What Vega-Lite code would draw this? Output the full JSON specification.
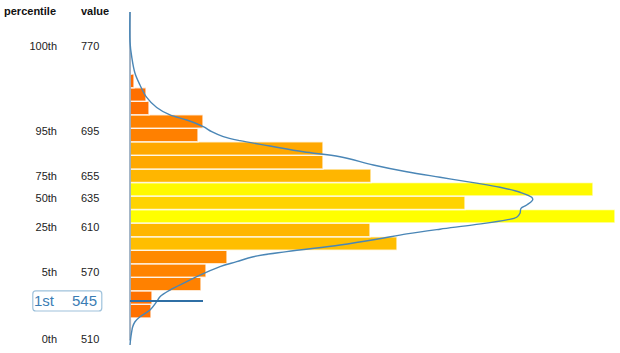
{
  "$schema": "https://vega.github.io/schema/vega-lite/v6.json",
  "width": 620,
  "height": 353,
  "autosize": "none",
  "padding": 0,
  "config": {"view": {"stroke": null}, "font": "Liberation Sans"},
  "datasets": {
    "bins": [
      {"start": 506, "end": 518, "count": 1},
      {"start": 518, "end": 530, "count": 1.3},
      {"start": 530, "end": 542, "count": 21},
      {"start": 542, "end": 554, "count": 22},
      {"start": 554, "end": 566, "count": 71},
      {"start": 566, "end": 578, "count": 76},
      {"start": 578, "end": 590, "count": 97},
      {"start": 590, "end": 602, "count": 267},
      {"start": 602, "end": 614, "count": 240},
      {"start": 614, "end": 626, "count": 485},
      {"start": 626, "end": 638, "count": 335},
      {"start": 638, "end": 650, "count": 463},
      {"start": 650, "end": 662, "count": 241},
      {"start": 662, "end": 674, "count": 193},
      {"start": 674, "end": 686, "count": 193},
      {"start": 686, "end": 698, "count": 68},
      {"start": 698, "end": 710, "count": 73},
      {"start": 710, "end": 722, "count": 19},
      {"start": 722, "end": 734, "count": 16},
      {"start": 734, "end": 746, "count": 4},
      {"start": 746, "end": 758, "count": 1},
      {"start": 758, "end": 770, "count": 1}
    ],
    "density": [
      {"v": 801, "d": 0}, {"v": 774.7, "d": 0}, {"v": 761.4, "d": 1.7}, {"v": 746.7, "d": 5},
      {"v": 736.3, "d": 10}, {"v": 725.3, "d": 16.7}, {"v": 716.4, "d": 26.7}, {"v": 709.8, "d": 40},
      {"v": 705.3, "d": 56.7}, {"v": 699.4, "d": 73.3}, {"v": 695, "d": 81.7}, {"v": 690.6, "d": 93.3},
      {"v": 687, "d": 110}, {"v": 682.3, "d": 140}, {"v": 677.2, "d": 173.3}, {"v": 672.8, "d": 210},
      {"v": 665.5, "d": 243.3}, {"v": 659.5, "d": 276.7}, {"v": 654.6, "d": 310}, {"v": 649.8, "d": 343.3},
      {"v": 645.7, "d": 370}, {"v": 641.3, "d": 390}, {"v": 636.8, "d": 401.7}, {"v": 634.5, "d": 402.7},
      {"v": 630, "d": 396.7}, {"v": 627.1, "d": 391}, {"v": 622.7, "d": 390}, {"v": 619.2, "d": 386.7},
      {"v": 616.8, "d": 376.7}, {"v": 612.4, "d": 343.3}, {"v": 608.6, "d": 310}, {"v": 604.4, "d": 276.7},
      {"v": 599.7, "d": 246.7}, {"v": 594.6, "d": 210}, {"v": 588.7, "d": 156.7}, {"v": 584.2, "d": 123.3},
      {"v": 579.8, "d": 106.7}, {"v": 575.4, "d": 90}, {"v": 566.5, "d": 66.7}, {"v": 562.1, "d": 56.7},
      {"v": 554.7, "d": 40}, {"v": 548.8, "d": 30}, {"v": 544.4, "d": 26.7}, {"v": 537, "d": 20},
      {"v": 531.1, "d": 10}, {"v": 526.6, "d": 5}, {"v": 522.2, "d": 2.7}, {"v": 517.8, "d": 1.7},
      {"v": 511.9, "d": 0.7}, {"v": 506, "d": 0}
    ],
    "labels": [
      {"pct": "100th", "val": "770", "v": 770},
      {"pct": "95th", "val": "695", "v": 695},
      {"pct": "75th", "val": "655", "v": 655},
      {"pct": "50th", "val": "635", "v": 635},
      {"pct": "25th", "val": "610", "v": 610},
      {"pct": "5th", "val": "570", "v": 570},
      {"pct": "0th", "val": "510", "v": 510}
    ],
    "highlight": [
      {"pct": "1st", "val": "545", "v": 545, "count": 73}
    ],
    "axisline": [
      {"lo": 510, "hi": 801}
    ],
    "headers": [
      {"pct": "percentile", "val": "value", "v": 801}
    ]
  },
  "layer": [
    {
      "data": {"name": "bins"},
      "mark": {"type": "bar", "orient": "horizontal", "stroke": "white", "strokeWidth": 1.5, "strokeOpacity": 0.75},
      "encoding": {
        "y": {"field": "start", "type": "quantitative", "axis": null,
              "scale": {"domain": [506, 801], "range": [345, 12], "nice": false, "zero": false, "padding": 0}},
        "y2": {"field": "end"},
        "x": {"field": "count", "type": "quantitative", "axis": null, "stack": null,
              "scale": {"domain": [-130, 490], "range": [0, 620], "nice": false, "zero": false, "padding": 0}},
        "color": {"field": "count", "type": "quantitative", "legend": null,
                  "scale": {"domain": [0, 485], "range": ["#ff6a00", "#ffff00"]}}
      }
    },
    {
      "data": {"name": "axisline"},
      "mark": {"type": "rule", "color": "#8ea4bb", "strokeWidth": 1.6},
      "encoding": {
        "x": {"datum": 0, "type": "quantitative"},
        "y": {"field": "lo", "type": "quantitative"},
        "y2": {"field": "hi"}
      }
    },
    {
      "data": {"name": "density"},
      "mark": {"type": "line", "color": "#4a86b6", "strokeWidth": 1.4, "interpolate": "catmull-rom"},
      "encoding": {
        "y": {"field": "v", "type": "quantitative"},
        "x": {"field": "d", "type": "quantitative"},
        "order": {"field": "v", "type": "quantitative", "sort": "descending"}
      }
    },
    {
      "data": {"name": "highlight"},
      "mark": {"type": "bar", "orient": "horizontal", "color": "#2f6fa5", "size": 2},
      "encoding": {
        "y": {"field": "v", "type": "quantitative"},
        "x": {"field": "count", "type": "quantitative", "stack": null}
      }
    },
    {
      "data": {"name": "labels"},
      "mark": {"type": "text", "align": "right", "baseline": "middle", "fontSize": 11, "color": "#222"},
      "encoding": {
        "x": {"datum": -73, "type": "quantitative"},
        "y": {"field": "v", "type": "quantitative"},
        "text": {"field": "pct"}
      }
    },
    {
      "data": {"name": "labels"},
      "mark": {"type": "text", "align": "left", "baseline": "middle", "fontSize": 11, "color": "#222"},
      "encoding": {
        "x": {"datum": -49, "type": "quantitative"},
        "y": {"field": "v", "type": "quantitative"},
        "text": {"field": "val"}
      }
    },
    {
      "data": {"name": "highlight"},
      "mark": {"type": "point", "filled": false, "fill": "white", "fillOpacity": 1, "stroke": "#9fc2dc", "strokeWidth": 1.2, "opacity": 1,
               "size": 4761,
               "shape": "M-0.913,-0.29 L0.913,-0.29 A0.087,0.087 0 0 1 1,-0.203 L1,0.203 A0.087,0.087 0 0 1 0.913,0.29 L-0.913,0.29 A0.087,0.087 0 0 1 -1,0.203 L-1,-0.203 A0.087,0.087 0 0 1 -0.913,-0.29 Z"},
      "encoding": {
        "x": {"datum": -62.7, "type": "quantitative"},
        "y": {"field": "v", "type": "quantitative"}
      }
    },
    {
      "data": {"name": "highlight"},
      "mark": {"type": "text", "align": "right", "baseline": "middle", "fontSize": 15, "color": "#3b7db4", "dy": 0.5},
      "encoding": {
        "x": {"datum": -76, "type": "quantitative"},
        "y": {"field": "v", "type": "quantitative"},
        "text": {"field": "pct"}
      }
    },
    {
      "data": {"name": "highlight"},
      "mark": {"type": "text", "align": "left", "baseline": "middle", "fontSize": 15, "color": "#3b7db4", "dy": 0.5},
      "encoding": {
        "x": {"datum": -58, "type": "quantitative"},
        "y": {"field": "v", "type": "quantitative"},
        "text": {"field": "val"}
      }
    },
    {
      "data": {"name": "headers"},
      "mark": {"type": "text", "align": "right", "baseline": "middle", "fontSize": 11, "fontWeight": "bold", "color": "#111"},
      "encoding": {
        "x": {"datum": -74, "type": "quantitative"},
        "y": {"field": "v", "type": "quantitative"},
        "text": {"field": "pct"}
      }
    },
    {
      "data": {"name": "headers"},
      "mark": {"type": "text", "align": "left", "baseline": "middle", "fontSize": 11, "fontWeight": "bold", "color": "#111"},
      "encoding": {
        "x": {"datum": -49, "type": "quantitative"},
        "y": {"field": "v", "type": "quantitative"},
        "text": {"field": "val"}
      }
    }
  ]
}
